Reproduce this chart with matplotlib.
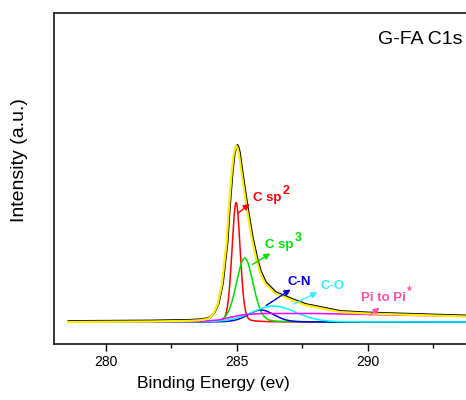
import numpy as np
import matplotlib
matplotlib.use('Agg')
import matplotlib.pyplot as plt
from matplotlib.transforms import offset_copy

plt.rcParams['font.family'] = ['Liberation Sans', 'DejaVu Sans']

# measured C1s envelope (binding energy eV, intensity a.u.)
env_x = [278.55, 281.68, 283.21, 283.59, 283.78, 283.95, 284.10, 284.27, 284.43,
         284.61, 284.69, 284.80, 284.88, 284.94, 284.99, 285.04, 285.08, 285.18,
         285.37, 285.56, 285.75, 285.88, 286.07, 286.45, 287.09, 287.60, 288.93,
         290.00, 291.22, 293.74, 295.0]
env_y = [0, 0.5, 1.2, 1.8, 2.6, 4, 8, 18, 38,
         80, 113, 149, 168, 174, 176, 173, 168, 149,
         115, 85, 62, 50, 39, 29, 22, 17, 10,
         8.5, 7.5, 5.5, 5]

# fitted peaks: centre (eV), height, FWHM (eV)
peak_names = ['C sp2', 'C sp3', 'C-N', 'C-O']
peak_center = [284.97, 285.30, 285.92, 286.41]
peak_height = [119.5, 64, 12, 16]
peak_fwhm = [0.37, 0.75, 1.17, 1.98]
peak_colors = ['#FF0000', '#00DD00', '#0000E0', '#00FFFF']

# pi-pi* satellite
pi_x = [278.55, 283.5, 284.3, 284.8, 285.3, 286.0, 288.0, 290.0, 292.0, 295.0]
pi_y = [0, 0.5, 2, 5, 7.5, 8.5, 8.5, 7.5, 6.5, 5.2]

xx = np.linspace(278.55, 295, 1500)


def gl(x, c, h, w, eta=0.15):
    s = w / 2.3548
    g = np.exp(-(x - c) ** 2 / (2 * s ** 2))
    l = 1 / (1 + ((x - c) / (w / 2)) ** 2)
    return h * ((1 - eta) * g + eta * l)


fig = plt.figure(figsize=(4.66, 4.0), dpi=100)
ax = fig.add_axes([54 / 466, 56 / 400, 1.0, 331 / 400])

for c, h, w, col in zip(peak_center, peak_height, peak_fwhm, peak_colors):
    ax.plot(xx, gl(xx, c, h, w), color=col, lw=1.1)
ax.plot(pi_x, pi_y, color='#FF00FF', lw=1.1)

sh = offset_copy(ax.transData, fig=fig, x=0.8, y=0.8, units='dots')
ax.plot(env_x, env_y, color='black', lw=1.6, transform=sh)
ax.plot(env_x, env_y, color='#FFEE00', lw=1.6)

# text, superscript, colour, text pos, arrow start, arrow end
labels = [('C sp', '2', '#FF0000', (285.6, 124), (284.96, 107), (285.57, 120)),
          ('C sp', '3', '#00DD00', (286.07, 77), (285.5, 56), (286.37, 70)),
          ('C-N', '', '#0000E0', (286.95, 40), (286.03, 15), (287.14, 34)),
          ('C-O', '', '#33EEFF', (288.2, 36), (287.1, 17), (288.17, 31)),
          ('Pi to Pi', '*', '#FF4FA8', (289.73, 24), (290.0, 5), (290.53, 16))]
for txt, sup, col, pos, a0, a1 in labels:
    t = ax.text(pos[0], pos[1], txt, color=col, fontsize=9.5, fontweight='bold',
                ha='left', va='center')
    if sup:
        ax.annotate(sup, xy=(1.0, 0.55), xycoords=t, xytext=(1, 0),
                    textcoords='offset points', color=col, fontsize=9,
                    fontweight='bold', ha='left', va='bottom')
    ax.annotate('', xy=a1, xytext=a0,
                arrowprops=dict(arrowstyle='-|>', color=col, lw=1, mutation_scale=9))

ax.text(293.6, 282, 'G-FA C1s', fontsize=14, ha='right', va='center')

ax.set_xlim(278.02, 278.02 + 466 / 26.2)
ax.set_ylim(-22, 309)
ax.set_xticks([280, 285, 290])
ax.set_xticks([282.5, 287.5, 292.5], minor=True)
ax.set_yticks([])
ax.tick_params(axis='x', which='major', direction='out', length=5, width=1, labelsize=10, pad=3)
ax.tick_params(axis='x', which='minor', direction='out', length=3, width=1)
for sp in ax.spines.values():
    sp.set_linewidth(1.1)
ax.set_xlabel('Binding Energy (ev)', fontsize=12.5)
ax.xaxis.set_label_coords((213 - 54) / 466, (344 - 376) / 331)
ax.set_ylabel('Intensity (a.u.)', fontsize=14)
ax.yaxis.set_label_coords((28 - 54) / 466, (344 - 160) / 331)

fig.savefig('out.png', dpi=100)
